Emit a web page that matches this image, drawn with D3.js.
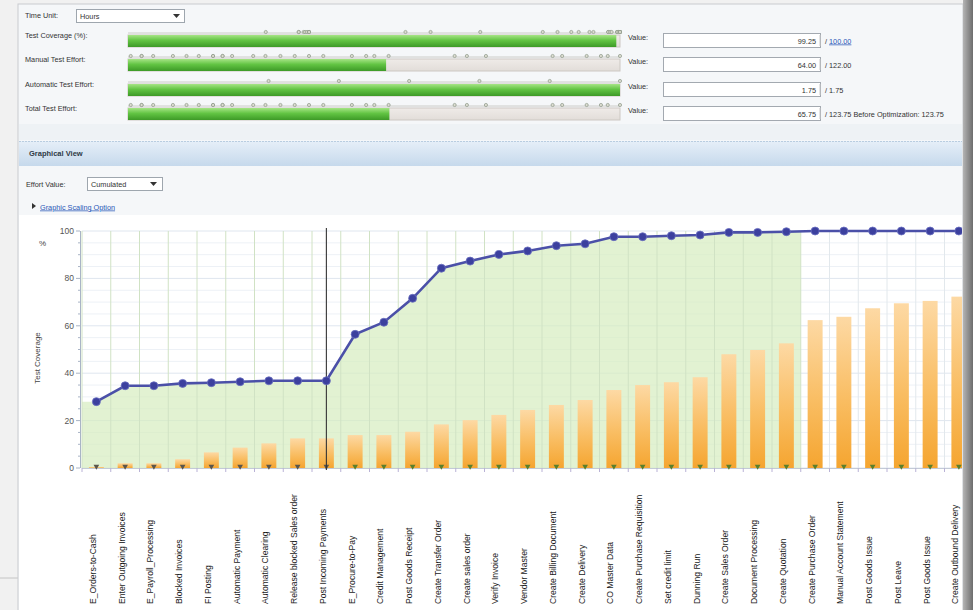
<!DOCTYPE html>
<html>
<head>
<meta charset="utf-8">
<script src="https://cdn.jsdelivr.net/npm/d3@7.9.0/dist/d3.min.js"></script>
<style>
  html, body { margin: 0; padding: 0; background: #efefef; overflow: hidden; }
  svg { display: block; font-family: "Liberation Sans", Arial, sans-serif; }
</style>
</head>
<body>
<svg id="view" width="973" height="610"></svg>
<script>
// ---- data ----
const steps = [
  'E_Orders-to-Cash', 'Enter Outgoing Invoices', 'E_Payroll_Processing', 'Blocked Invoices',
  'FI Posting', 'Automatic Payment', 'Automatic Clearing', 'Release blocked Sales order',
  'Post Incoming Payments', 'E_Procure-to-Pay', 'Credit Management', 'Post Goods Receipt',
  'Create Transfer Order', 'Create sales order', 'Verify Invoice', 'Vendor Master',
  'Create Billing Document', 'Create Delivery', 'CO Master Data', 'Create Purchase Requisition',
  'Set credit limit', 'Dunning Run', 'Create Sales Order', 'Document Processing',
  'Create Quotation', 'Create Purchase Order', 'Manual Account Statement', 'Post Goods Issue',
  'Post Leave', 'Post Goods Issue ', 'Create Outbound Delivery'
];
const coverage = [28.0, 34.7, 34.7, 35.7, 36.0, 36.4, 36.8, 36.8, 36.8, 56.4, 61.5, 71.6,
  84.3, 87.3, 90.1, 91.6, 93.8, 94.6, 97.6, 97.6, 98.0, 98.3, 99.4, 99.4, 99.7,
  100, 100, 100, 100, 100, 100];
const effort = [0.4, 2.0, 2.0, 3.7, 6.6, 8.6, 10.4, 12.5, 12.5, 13.9, 13.9, 15.3,
  18.4, 20.2, 22.4, 24.5, 26.6, 28.7, 32.9, 35.0, 36.2, 38.3, 48.0, 49.8, 52.6,
  62.4, 63.8, 67.4, 69.5, 70.5, 72.3];
const yTicks = [0, 20, 40, 60, 80, 100];
const optimizedSteps = 25;              // steps covered by the green area
const cursorStep = 'Post Incoming Payments';

const meterLabels = ['Test Coverage (%):', 'Manual Test Effort:', 'Automatic Test Effort:', 'Total Test Effort:'];
const meterValues = [99.25, 64.00, 1.75, 65.75];
const meterTotals = [100.00, 122.00, 1.75, 123.75];
const autoEffortSteps = [0.5, 0.75, 1.0, 1.25, 1.5, 1.75];
const beforeOptimization = 123.75;

const svg = d3.select('#view');
const defs = svg.append('defs');

function vGrad(id, stops) {
  const g = defs.append('linearGradient').attr('id', id)
    .attr('x1', 0).attr('y1', 0).attr('x2', 0).attr('y2', 1);
  stops.forEach(([o, c]) => g.append('stop').attr('offset', o).attr('stop-color', c));
}
vGrad('meterGreen', [['0%', '#a6e486'], ['45%', '#62c443'], ['100%', '#3d9a27']]);
vGrad('meterTrack', [['0%', '#efebe8'], ['100%', '#e2ddd9']]);
vGrad('header', [['0%', '#e6eff8'], ['100%', '#c6d9ec']]);
vGrad('barOrange', [['0%', '#fdd9a4'], ['55%', '#f9bd62'], ['100%', '#f5a530']]);
const sh = defs.append('linearGradient').attr('id', 'shadow').attr('x1', 0).attr('x2', 1).attr('y1', 0).attr('y2', 0);
sh.append('stop').attr('offset', '0%').attr('stop-color', '#b4b4b4');
sh.append('stop').attr('offset', '100%').attr('stop-color', '#6d6d6d');

// ---- page frame ----
svg.append('rect').attr('width', 973).attr('height', 610).attr('fill', '#f1f1f1');
svg.append('line').attr('x1', 0).attr('x2', 62).attr('y1', 578).attr('y2', 578)
  .attr('stroke', '#c4c4c4');
svg.append('rect').attr('x', 18).attr('y', 4).attr('width', 945).attr('height', 620)
  .attr('fill', '#f5f7f9').attr('stroke', '#c9ccd0');
svg.append('rect').attr('x', 19).attr('y', 124).attr('width', 943).attr('height', 16)
  .attr('fill', '#eef2f5');

// ---- top meters ----
const panel = svg.append('g').attr('font-size', 7.3).attr('fill', '#333');
panel.append('text').attr('x', 25).attr('y', 18).text('Time Unit:');
panel.append('rect').attr('x', 76.5).attr('y', 9.5).attr('width', 108).attr('height', 13)
  .attr('fill', '#fff').attr('stroke', '#9ea6ae');
panel.append('text').attr('x', 80).attr('y', 18.5).text('Hours');
panel.append('path').attr('d', 'M173,14 h7 l-3.5,4 z').attr('fill', '#333');

const meterX = d3.scaleLinear().domain([0, 1]).range([128, 620]);
const rowY = [34, 58, 83, 107];
const markerSets = [
  coverage.map(v => v / 100),
  effort.map(v => v / effort[effort.length - 1]),
  autoEffortSteps.map(v => v / meterTotals[2]),
  effort.map(v => v / effort[effort.length - 1])
];

meterLabels.forEach((lab, i) => {
  const y0 = rowY[i];
  const g = panel.append('g');
  g.append('text').attr('x', 25).attr('y', y0 + 4).text(lab);
  // marker line
  g.append('line').attr('x1', meterX(0)).attr('x2', meterX(1))
    .attr('y1', y0 - 1).attr('y2', y0 - 1).attr('stroke', '#c2c2bc').attr('stroke-width', 0.8);
  g.selectAll('circle').data(markerSets[i]).join('circle')
    .attr('cx', d => meterX(d)).attr('cy', y0 - 2).attr('r', 1.6)
    .attr('fill', '#dcdcd0').attr('stroke', '#8d9888').attr('stroke-width', 0.7);
  g.append('rect').attr('x', meterX(0)).attr('y', y0 + 1).attr('width', meterX(1) - meterX(0))
    .attr('height', 12).attr('fill', 'url(#meterTrack)').attr('stroke', '#cdc8c3');
  g.append('rect').attr('x', meterX(0)).attr('y', y0 + 1)
    .attr('width', meterX(meterValues[i] / meterTotals[i]) - meterX(0))
    .attr('height', 12).attr('fill', 'url(#meterGreen)');
  g.append('text').attr('x', 628).attr('y', y0 + 6).text('Value:');
  g.append('rect').attr('x', 663.5).attr('y', y0 - 0.5).attr('width', 157).attr('height', 14)
    .attr('fill', '#fff').attr('stroke', '#a3a9b0');
  g.append('line').attr('x1', 820).attr('x2', 820).attr('y1', y0 + 1).attr('y2', y0 + 12)
    .attr('stroke', '#c8c8c8');
  g.append('text').attr('x', 816).attr('y', y0 + 9.5).attr('text-anchor', 'end')
    .text(d3.format('.2f')(meterValues[i]));
  const t = g.append('text').attr('x', 825).attr('y', y0 + 9.5);
  t.append('tspan').text('/ ');
  const total = t.append('tspan').text(d3.format('.2f')(meterTotals[i]));
  if (i === 0) total.attr('fill', '#2a58b8').attr('text-decoration', 'underline');
  if (i === 3) t.append('tspan').text(' Before Optimization:   ' + d3.format('.2f')(beforeOptimization));
});

// ---- graphical view header ----
svg.append('rect').attr('x', 19).attr('y', 141).attr('width', 943).attr('height', 25)
  .attr('fill', 'url(#header)');
svg.append('line').attr('x1', 19).attr('x2', 962).attr('y1', 141.5).attr('y2', 141.5)
  .attr('stroke', '#b9cde0').attr('stroke-dasharray', '2,1');
svg.append('text').attr('x', 29).attr('y', 156).attr('font-size', 7.5).attr('font-weight', 'bold')
  .attr('fill', '#2e3a46').text('Graphical View');

const ctrl = svg.append('g').attr('font-size', 7.3).attr('fill', '#333');
ctrl.append('text').attr('x', 26).attr('y', 187).text('Effort Value:');
ctrl.append('rect').attr('x', 87.5).attr('y', 177.5).attr('width', 75).attr('height', 13)
  .attr('fill', '#fff').attr('stroke', '#9ea6ae');
ctrl.append('text').attr('x', 91).attr('y', 187).text('Cumulated');
ctrl.append('path').attr('d', 'M150,182 h7 l-3.5,4 z').attr('fill', '#333');
ctrl.append('path').attr('d', 'M32,203 l4,3 l-4,3 z').attr('fill', '#333');
ctrl.append('text').attr('x', 40).attr('y', 209.5).attr('fill', '#2a58b8')
  .attr('text-decoration', 'underline').text('Graphic Scaling Option');

// ---- chart ----
svg.append('rect').attr('x', 19).attr('y', 215).attr('width', 943).attr('height', 400)
  .attr('fill', '#fff');

const x = d3.scaleBand().domain(steps).range([82, 82 + steps.length * 28.75]).padding(0);
const bw = x.bandwidth();
const cx = d => x(d) + bw / 2;
const y = d3.scaleLinear().domain([0, 100]).range([468, 231]);

const plot = svg.append('g');
const clip = defs.append('clipPath').attr('id', 'plotClip');
clip.append('rect').attr('x', 19).attr('y', 215).attr('width', 943).attr('height', 400);
plot.attr('clip-path', 'url(#plotClip)');

// horizontal grid
plot.append('g').selectAll('line').data(d3.range(0, 101, 5)).join('line')
  .attr('x1', 82).attr('x2', 963).attr('y1', d => y(d)).attr('y2', d => y(d))
  .attr('stroke', d => d % 20 === 0 ? '#dfe6ef' : '#edf1f6');

// green area for optimized steps
const areaPts = [[x(steps[0]), coverage[0]]]
  .concat(steps.slice(0, optimizedSteps).map((s, i) => [cx(s), coverage[i]]))
  .concat([[x(steps[optimizedSteps - 1]) + bw, coverage[optimizedSteps - 1]]]);
plot.append('path').datum(areaPts)
  .attr('d', d3.area().x(d => d[0]).y0(y(0)).y1(d => y(d[1])))
  .attr('fill', '#d6ecbf').attr('opacity', 0.7);

// vertical grid at band boundaries
plot.append('g').selectAll('line').data(steps).join('line')
  .attr('x1', d => x(d)).attr('x2', d => x(d)).attr('y1', y(100)).attr('y2', y(0))
  .attr('stroke', (d, i) => i <= optimizedSteps ? '#d0e2c4' : '#e2e8ec');

// effort bars
plot.append('g').selectAll('rect').data(steps).join('rect')
  .attr('x', d => cx(d) - bw * 0.26).attr('width', bw * 0.52)
  .attr('y', (d, i) => y(effort[i])).attr('height', (d, i) => y(0) - y(effort[i]))
  .attr('fill', 'url(#barOrange)');

// x axis
plot.append('line').attr('x1', 82).attr('x2', 963).attr('y1', y(0) + 0.5).attr('y2', y(0) + 0.5)
  .attr('stroke', '#c3cad6');
plot.append('g').selectAll('line').data(steps).join('line')
  .attr('x1', d => x(d)).attr('x2', d => x(d)).attr('y1', y(0)).attr('y2', y(0) + 4)
  .attr('stroke', '#b9b2d6');
plot.append('g').selectAll('path').data(steps).join('path')
  .attr('transform', d => `translate(${cx(d)},${y(0) - 1.5}) rotate(180)`)
  .attr('d', d3.symbol(d3.symbolTriangle, 14))
  .attr('fill', (d, i) => i < 9 ? '#5a564c' : '#5a7f2c');

// cursor
plot.append('line').attr('x1', cx(cursorStep)).attr('x2', cx(cursorStep))
  .attr('y1', y(100) - 3).attr('y2', y(0) + 2).attr('stroke', '#333').attr('stroke-width', 1.1);

// coverage line
plot.append('path').datum(coverage)
  .attr('d', d3.line().x((d, i) => cx(steps[i])).y(d => y(d)))
  .attr('fill', 'none').attr('stroke', '#4b50a8').attr('stroke-width', 2.6);
plot.append('g').selectAll('circle').data(coverage).join('circle')
  .attr('cx', (d, i) => cx(steps[i])).attr('cy', d => y(d)).attr('r', 4)
  .attr('fill', '#3c409e').attr('stroke', '#6a6ec0').attr('stroke-width', 0.8);

// x labels
plot.append('g').selectAll('text').data(steps).join('text')
  .attr('transform', d => `translate(${cx(d) - 0.5},604) rotate(-90)`)
  .attr('font-size', 8.6).attr('fill', '#1a1a1a').text(d => d.trim());

// y axis
const ya = svg.append('g');
ya.append('line').attr('x1', 80.5).attr('x2', 80.5).attr('y1', y(100)).attr('y2', y(0))
  .attr('stroke', '#a9b4c6');
ya.selectAll('line.minor').data(d3.range(0, 101, 5)).join('line').attr('class', 'minor')
  .attr('x1', d => d % 20 === 0 ? 76 : 78).attr('x2', 80).attr('y1', d => y(d)).attr('y2', d => y(d))
  .attr('stroke', '#a9b4c6');
ya.selectAll('text').data(yTicks).join('text')
  .attr('x', 74).attr('y', d => y(d)).attr('dy', '0.35em').attr('text-anchor', 'end')
  .attr('font-size', 8.5).attr('fill', '#555').text(d => d);
ya.append('text').attr('x', 39).attr('y', 246).attr('font-size', 8).attr('fill', '#444').text('%');
ya.append('text').attr('transform', 'translate(40,358) rotate(-90)').attr('text-anchor', 'middle')
  .attr('font-size', 8).attr('fill', '#444').text('Test Coverage');

// right shadow edge
svg.append('rect').attr('x', 963).attr('y', 0).attr('width', 10).attr('height', 610)
  .attr('fill', 'url(#shadow)');
</script>
</body>
</html>
